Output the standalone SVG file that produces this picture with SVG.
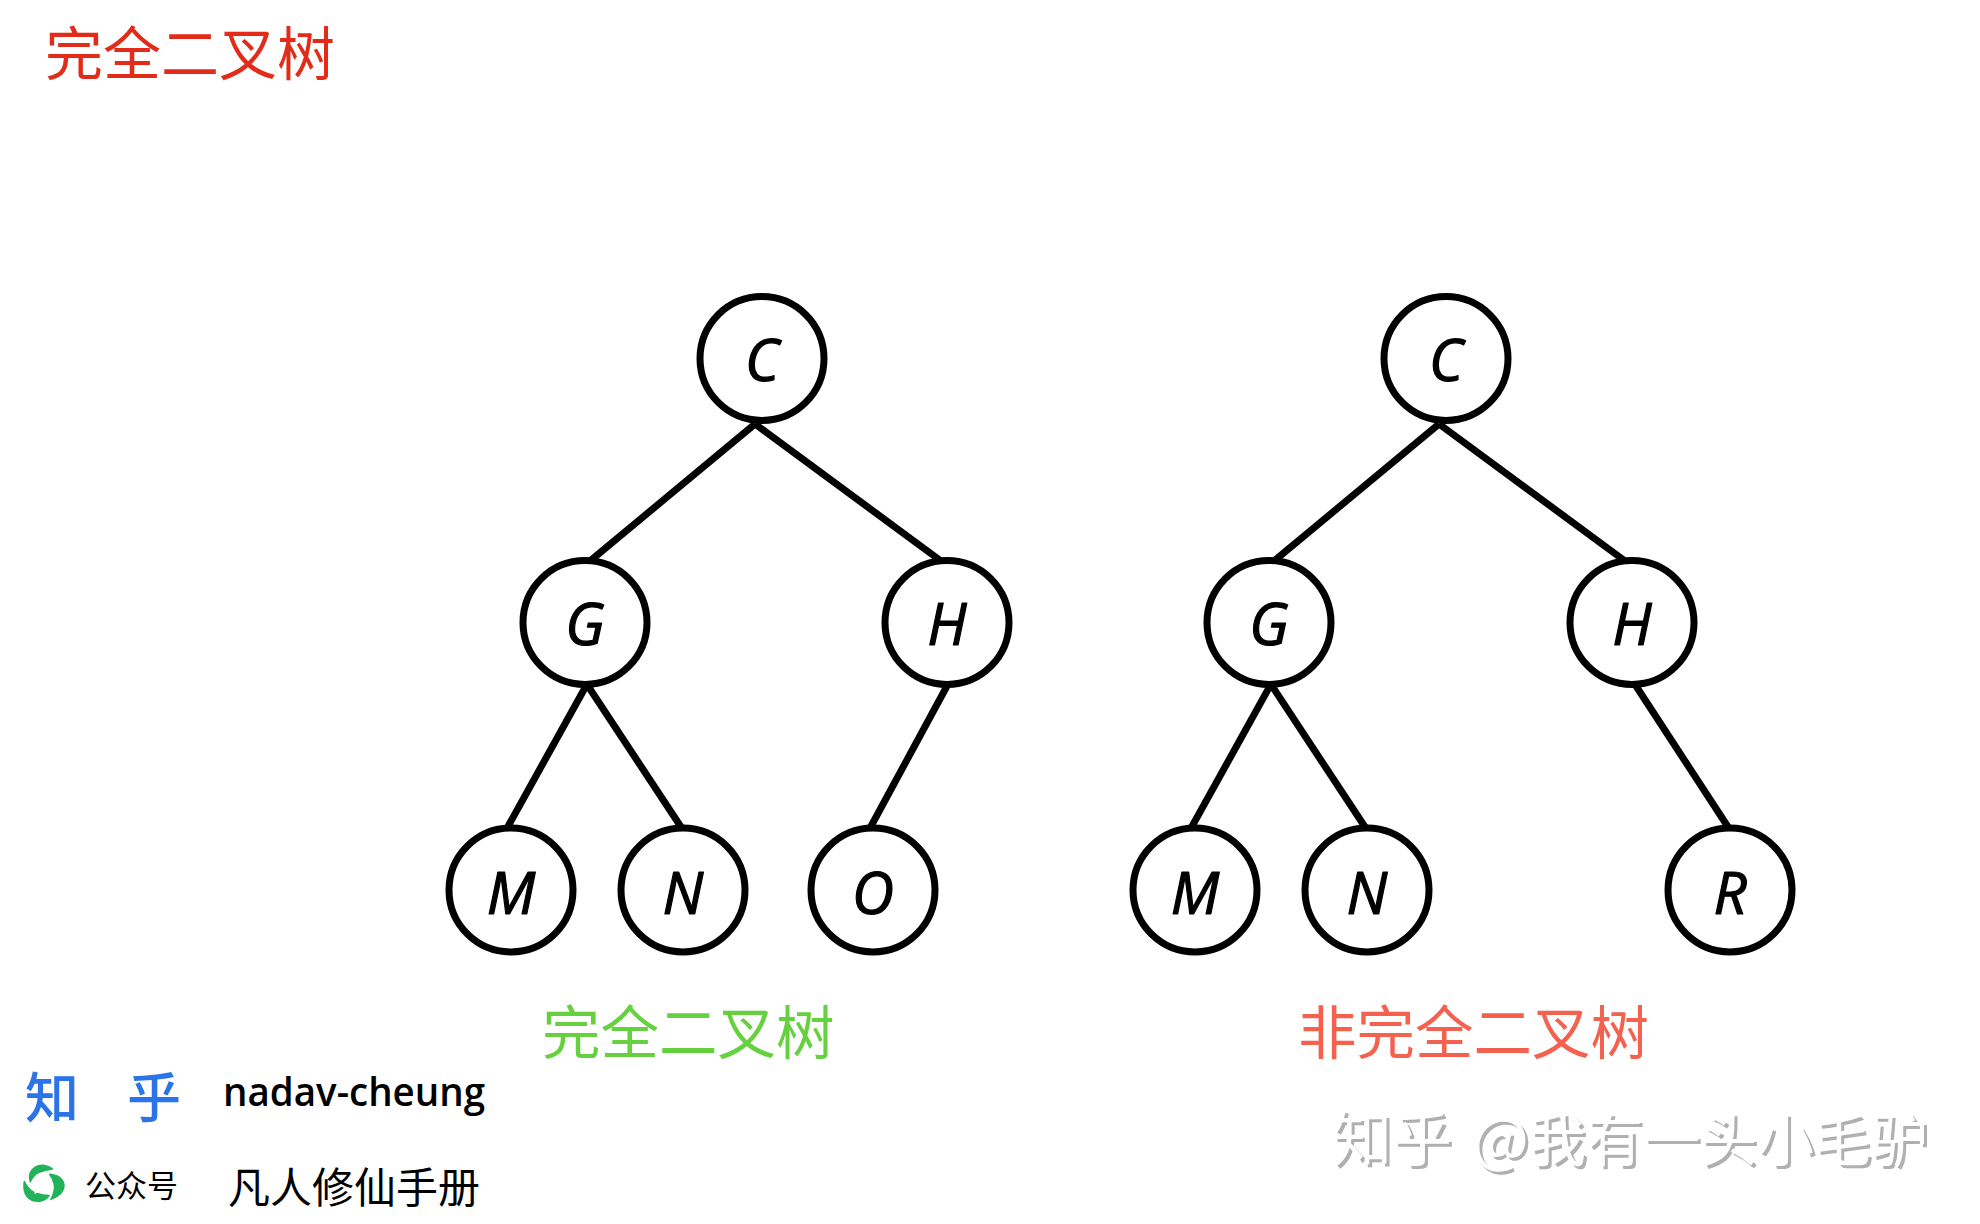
<svg xmlns="http://www.w3.org/2000/svg" width="1980" height="1224" viewBox="0 0 1980 1224">
<style>
.n circle{fill:#fff;stroke:#000;stroke-width:7}
.n text{font:italic 500 58px "Open Sans","DejaVu Sans",sans-serif;text-anchor:middle;fill:#000;stroke:#000;stroke-width:1.2;stroke-linejoin:round}
#connectors line{stroke:#000;stroke-width:7;stroke-linecap:butt}
.cjk{font-family:"Noto Sans CJK SC",sans-serif}
</style>
<defs>
<filter id="cut" x="-5%" y="-20%" width="110%" height="140%">
<feOffset in="SourceAlpha" dx="-3" dy="-3" result="o"/>
<feComposite in="SourceGraphic" in2="o" operator="out"/>
</filter>
</defs>
<rect width="1980" height="1224" fill="#fff"/>
<text class="cjk" x="45" y="75" font-size="58" fill="#e22b18">完全二叉树</text>
<g id="connectors">
<line x1="755" y1="424" x2="590" y2="561"/><line x1="755" y1="424" x2="941" y2="561"/>
<line x1="586" y1="686" x2="506" y2="830"/><line x1="588" y1="686" x2="683" y2="830"/>
<line x1="947" y1="686" x2="869" y2="830"/>
<line x1="1439" y1="424" x2="1274" y2="561"/><line x1="1439" y1="424" x2="1625" y2="561"/>
<line x1="1270" y1="686" x2="1190" y2="830"/><line x1="1272" y1="686" x2="1367" y2="830"/>
<line x1="1636" y1="686" x2="1730" y2="830"/>
</g>
<g id="n1" class="n"><circle cx="762" cy="358.500" r="62"/><text x="762" y="381">C</text></g>
<g id="n2" class="n"><circle cx="585" cy="622.500" r="62"/><text x="585" y="645">G</text></g>
<g id="n3" class="n"><circle cx="947" cy="622.500" r="62"/><text x="947" y="645">H</text></g>
<g id="n4" class="n"><circle cx="511" cy="890" r="62"/><text x="511" y="914">M</text></g>
<g id="n5" class="n"><circle cx="683" cy="890" r="62"/><text x="683" y="914">N</text></g>
<g id="n6" class="n"><circle cx="873" cy="890" r="62"/><text x="873" y="914">O</text></g>
<g id="n7" class="n"><circle cx="1446" cy="358.500" r="62"/><text x="1446" y="381">C</text></g>
<g id="n8" class="n"><circle cx="1269" cy="622.500" r="62"/><text x="1269" y="645">G</text></g>
<g id="n9" class="n"><circle cx="1632" cy="622.500" r="62"/><text x="1632" y="645">H</text></g>
<g id="n10" class="n"><circle cx="1195" cy="890" r="62"/><text x="1195" y="914">M</text></g>
<g id="n11" class="n"><circle cx="1367" cy="890" r="62"/><text x="1367" y="914">N</text></g>
<g id="n12" class="n"><circle cx="1730" cy="890" r="62"/><text x="1730" y="914">R</text></g>
<text class="cjk" x="542" y="1054" font-size="58.500" fill="#66d13f">完全二叉树</text>
<text class="cjk" x="1298" y="1054" font-size="58.500" fill="#f4614f">非完全二叉树</text>
<text class="cjk" font-size="57" y="1164" fill="#b0b0b0" filter="url(#cut)"><tspan x="1335" font-size="60">知乎</tspan><tspan x="1475" font-size="60">@</tspan><tspan x="1532">我有一头小毛驴</tspan></text>
<text class="cjk" x="25" y="1118" font-size="54" font-weight="500" fill="#2a74e8">知</text>
<text class="cjk" x="127" y="1118" font-size="54" font-weight="500" fill="#2a74e8">乎</text>
<text x="223" y="1106" font-family="'Open Sans','DejaVu Sans',sans-serif" font-size="39" font-weight="600" textLength="262" lengthAdjust="spacingAndGlyphs" fill="#000">nadav-cheung</text>
<g id="logo" fill="#22b35a" stroke="#22b35a" stroke-width="5" stroke-linejoin="round" transform="translate(15 1155) scale(.3333)">
<path d="M112 42Q85 24 62 36Q38 50 46 80Q56 58 72 52Q92 44 112 42Z"/>
<path d="M104 58Q144 62 147 92Q146 118 108 133Q122 108 118 88Q114 70 104 58Z"/>
<path d="M28 80Q24 108 36 124Q52 142 78 138Q94 134 102 122Q84 122 66 116L58 122L56 112Q38 102 28 80Z"/>
</g>
<text class="cjk" x="85" y="1197" font-size="31" fill="#000">公众号</text>
<text class="cjk" x="228" y="1203" font-size="42" fill="#000">凡人修仙手册</text>
</svg>
